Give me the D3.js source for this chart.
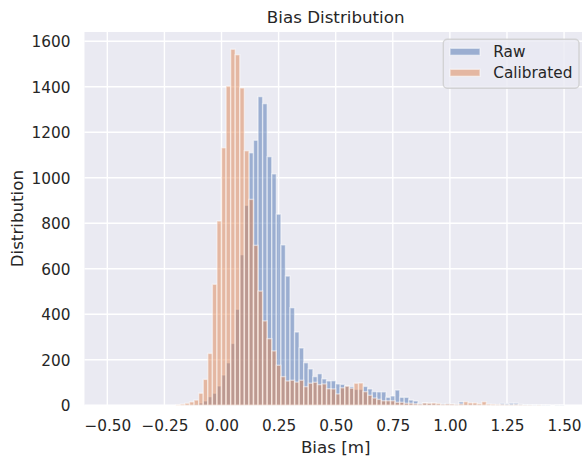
<!DOCTYPE html>
<html>
<head>
<meta charset="utf-8">
<script src="https://cdn.jsdelivr.net/npm/d3@7"></script>
<style>
  html, body { margin: 0; padding: 0; background: #ffffff; }
  svg { display: block; font-family: "DejaVu Sans", sans-serif; }
</style>
</head>
<body>
<svg id="chart" width="582" height="459"></svg>
<script>
// Histogram bins: 100 equal bins from -0.5 to 1.5
const binStart = -0.5;
const binWidth = 0.02;

// Counts per bin for the raw bias
const rawCounts = [
  0, 0, 0, 0, 0, 0, 0, 0, 0, 0,
  0, 0, 0, 0, 0, 0, 1, 2, 3, 5,
  10, 19, 38, 53, 85, 133, 187, 272, 422, 662,
  879, 1110, 1165, 1357, 1326, 1093, 1017, 840, 705, 568,
  429, 322, 252, 187, 160, 126, 139, 116, 107, 108,
  94, 92, 85, 82, 70, 70, 83, 72, 60, 59,
  59, 35, 41, 67, 35, 35, 23, 19, 8, 10,
  9, 8, 6, 7, 8, 6, 4, 15, 6, 5,
  5, 4, 3, 3, 2, 3, 8, 7, 9, 9,
  4, 2, 2, 1, 2, 1, 1, 0, 1, 1
];

// Counts per bin for the calibrated bias
const calibratedCounts = [
  0, 0, 0, 0, 0, 0, 0, 0, 0, 0,
  0, 0, 0, 0, 0, 2, 5, 9, 15, 23,
  53, 114, 228, 532, 810, 1132, 1403, 1565, 1541, 1395,
  1119, 905, 703, 502, 371, 293, 239, 176, 126, 107,
  110, 102, 110, 82, 97, 101, 91, 94, 73, 72,
  50, 77, 84, 75, 97, 98, 60, 44, 32, 26,
  20, 20, 20, 13, 13, 9, 9, 7, 5, 10,
  9, 10, 8, 4, 6, 5, 3, 6, 16, 11,
  11, 7, 16, 5, 4, 3, 3, 2, 2, 3,
  2, 1, 1, 0, 1, 0, 0, 0, 0, 0
];

const seriesNames = ["Raw", "Calibrated"];
const seriesColors = ["#4c72b0", "#dd8452"];
const xTicks = [-0.5, -0.25, 0, 0.25, 0.5, 0.75, 1.0, 1.25, 1.5];
const yTicks = [0, 200, 400, 600, 800, 1000, 1200, 1400, 1600];

const svg = d3.select("#chart");
const plot = { left: 84.5, right: 586.9, top: 32, bottom: 405.3 };

const x = d3.scaleLinear().domain([-0.6, 1.6]).range([plot.left, plot.right]);
const y = d3.scaleLinear().domain([0, 1600]).range([405.3, 41.3]);

const textColor = "#262626";

// Axes background
svg.append("rect")
  .attr("x", plot.left).attr("y", plot.top)
  .attr("width", plot.right - plot.left).attr("height", plot.bottom - plot.top)
  .attr("fill", "#eaeaf2");

// Grid lines
const grid = svg.append("g").attr("stroke", "#ffffff").attr("stroke-width", 1.4);
grid.selectAll("line.v").data(xTicks).join("line")
  .attr("x1", d => x(d)).attr("x2", d => x(d))
  .attr("y1", plot.top).attr("y2", plot.bottom);
grid.selectAll("line.h").data(yTicks).join("line")
  .attr("x1", plot.left).attr("x2", plot.right)
  .attr("y1", d => y(d)).attr("y2", d => y(d));

// Histogram bars
function drawHist(counts, color) {
  const bins = counts.map((c, i) => ({
    x0: binStart + i * binWidth,
    x1: binStart + (i + 1) * binWidth,
    count: c
  })).filter(b => b.count > 0);
  svg.append("g").selectAll("rect").data(bins).join("rect")
    .attr("x", d => x(d.x0))
    .attr("width", d => x(d.x1) - x(d.x0))
    .attr("y", d => y(d.count))
    .attr("height", d => y(0) - y(d.count))
    .attr("fill", color)
    .attr("fill-opacity", 0.5)
    .attr("stroke", "#ffffff")
    .attr("stroke-opacity", 0.5)
    .attr("stroke-width", 1.4);
}
drawHist(rawCounts, seriesColors[0]);
drawHist(calibratedCounts, seriesColors[1]);

// X axis tick labels
const fmtX = d => d3.format(".2f")(d).replace("-", "\u2212");
const xAxis = d3.axisBottom(x).tickValues(xTicks).tickFormat(fmtX).tickSize(0).tickPadding(0);
const gx = svg.append("g").attr("transform", `translate(0, ${plot.bottom})`).call(xAxis);
gx.select(".domain").remove();
gx.selectAll("text")
  .attr("y", 25.4).attr("dy", null)
  .attr("fill", textColor)
  .style("font-size", "15.3px")
  .style("font-family", "DejaVu Sans, sans-serif");

// Y axis tick labels
const yAxis = d3.axisLeft(y).tickValues(yTicks).tickFormat(d3.format("d")).tickSize(0).tickPadding(0);
const gy = svg.append("g").attr("transform", `translate(${plot.left}, 0)`).call(yAxis);
gy.select(".domain").remove();
gy.selectAll("text")
  .attr("x", -14).attr("dy", "0.36em")
  .attr("fill", textColor)
  .style("font-size", "15.3px")
  .style("font-family", "DejaVu Sans, sans-serif");

// Axis titles and chart title
svg.append("text")
  .attr("x", (plot.left + plot.right) / 2).attr("y", 453)
  .attr("text-anchor", "middle").attr("fill", textColor)
  .style("font-size", "16.7px")
  .text("Bias [m]");

svg.append("text")
  .attr("transform", `translate(23, ${(plot.top + plot.bottom) / 2}) rotate(-90)`)
  .attr("text-anchor", "middle").attr("fill", textColor)
  .style("font-size", "16.7px")
  .text("Distribution");

svg.append("text")
  .attr("x", (plot.left + plot.right) / 2).attr("y", 23)
  .attr("text-anchor", "middle").attr("fill", textColor)
  .style("font-size", "16.7px")
  .text("Bias Distribution");

// Legend
const legend = svg.append("g").attr("transform", "translate(443.3, 39.3)");
legend.append("rect")
  .attr("width", 135.7).attr("height", 49)
  .attr("rx", 4).attr("ry", 4)
  .attr("fill", "#eaeaf2").attr("fill-opacity", 0.8)
  .attr("stroke", "#cccccc").attr("stroke-opacity", 0.8).attr("stroke-width", 1.4);
seriesNames.forEach((name, i) => {
  const row = legend.append("g").attr("transform", `translate(0, ${12.5 + i * 21})`);
  row.append("rect")
    .attr("x", 6.7).attr("y", -3.5).attr("width", 30).attr("height", 7)
    .attr("fill", seriesColors[i]).attr("fill-opacity", 0.5)
    .attr("stroke", "#ffffff").attr("stroke-opacity", 0.5).attr("stroke-width", 1.4);
  row.append("text")
    .attr("x", 50).attr("y", 0).attr("dy", "0.36em")
    .attr("fill", textColor)
    .style("font-size", "15.3px")
    .text(name);
});
</script>
</body>
</html>
